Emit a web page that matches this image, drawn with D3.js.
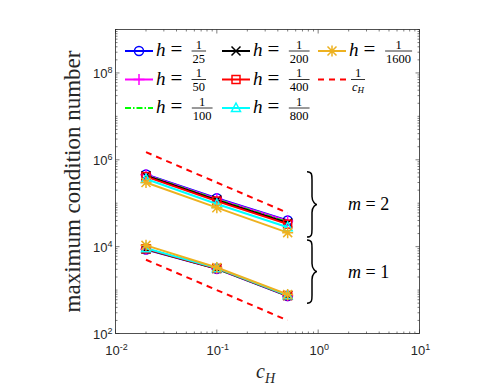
<!doctype html>
<html>
<head>
<meta charset="utf-8">
<script src="https://cdn.jsdelivr.net/npm/d3@7"></script>
<style>
  body { margin: 0; background: #fff; }
  text { font-family: "Liberation Serif", serif; }
</style>
</head>
<body>
<svg id="chart" width="499" height="387"></svg>
<script>
// data
var cH = [0.02, 0.1, 0.5];
var hLabels = ["25", "50", "100", "200", "400", "800", "1600"];
var colors = ["#0000ff", "#ff00ff", "#00ff00", "#000000", "#ff0000", "#00ffff", "#edb120"];
var markers = ["circle", "plus", "none", "cross", "square", "triangle", "star"];
var dashes = [null, null, "6,2,1.5,2", null, null, null, null];

// m = 2
var m2 = [
  [4.6e5, 1.30e5, 4.0e4],
  [4.5e5, 1.26e5, 3.9e4],
  [4.4e5, 1.22e5, 3.7e4],
  [4.3e5, 1.18e5, 3.5e4],
  [4.1e5, 1.12e5, 3.3e4],
  [3.6e5, 9.6e4, 2.8e4],
  [3.0e5, 7.9e4, 2.1e4]
];
// m = 1
var m1 = [
  [8.6e3, 3.1e3, 7.3e2],
  [8.7e3, 3.1e3, 7.4e2],
  [8.8e3, 3.1e3, 7.4e2],
  [8.8e3, 3.15e3, 7.5e2],
  [8.9e3, 3.15e3, 7.5e2],
  [9.2e3, 3.2e3, 7.6e2],
  [1.07e4, 3.3e3, 7.9e2]
];
// reference slopes 1/c_H
var refUpper = 3e4, refLower = 100;
// brace extents (data units)
var braceSpans = [[5.3e5, 1.66e4, "2"], [1.42e4, 5.0e2, "1"]];

var svg = d3.select("#chart");
var L = 115.5, R = 419.5, T = 29.5, B = 333.5;
var x = d3.scaleLog().domain([1e-2, 1e1]).range([L, R]);
var y = d3.scaleLog().domain([1e2, 1e9]).range([B, T]);

// ticks
function minorTicks(lo, hi) {
  var out = [];
  for (var e = lo; e < hi; e++)
    for (var k = 2; k <= 9; k++) out.push(k * Math.pow(10, e));
  return out;
}
var ax = svg.append("g").attr("stroke", "#262626").attr("stroke-width", 0.6);
var xMajor = [1e-2, 1e-1, 1e0, 1e1], xMinor = minorTicks(-2, 1);
var yMajor = [1e2, 1e4, 1e6, 1e8], yMinor = minorTicks(2, 9).concat([1e3, 1e5, 1e7, 1e9]);
xMajor.forEach(function (v) {
  ax.append("line").attr("x1", x(v)).attr("x2", x(v)).attr("y1", B).attr("y2", B - 4);
  ax.append("line").attr("x1", x(v)).attr("x2", x(v)).attr("y1", T).attr("y2", T + 4);
});
xMinor.forEach(function (v) {
  ax.append("line").attr("x1", x(v)).attr("x2", x(v)).attr("y1", B).attr("y2", B - 2);
  ax.append("line").attr("x1", x(v)).attr("x2", x(v)).attr("y1", T).attr("y2", T + 2);
});
yMajor.forEach(function (v) {
  ax.append("line").attr("y1", y(v)).attr("y2", y(v)).attr("x1", L).attr("x2", L + 4);
  ax.append("line").attr("y1", y(v)).attr("y2", y(v)).attr("x1", R).attr("x2", R - 4);
});
yMinor.forEach(function (v) {
  ax.append("line").attr("y1", y(v)).attr("y2", y(v)).attr("x1", L).attr("x2", L + 2);
  ax.append("line").attr("y1", y(v)).attr("y2", y(v)).attr("x1", R).attr("x2", R - 2);
});
ax.append("rect").attr("x", L).attr("y", T).attr("width", R - L).attr("height", B - T)
  .attr("fill", "none").attr("stroke-width", 0.8);

// tick labels 10^k
function pow10Label(g, px, py, k, anchor) {
  var t = g.append("text").attr("x", px).attr("y", py).attr("text-anchor", anchor)
    .style("font-family", "Liberation Sans, Arial, sans-serif").style("font-size", "13px").attr("fill", "#262626");
  t.append("tspan").text("10");
  t.append("tspan").attr("dy", -5).style("font-size", "9px").text(k);
}
var lab = svg.append("g");
[-2, -1, 0, 1].forEach(function (k) { pow10Label(lab, x(Math.pow(10, k)) + 1, B + 21, k, "middle"); });
[2, 4, 6, 8].forEach(function (k) { pow10Label(lab, L - 3, y(Math.pow(10, k)) + 5, k, "end"); });

// axis titles
svg.append("text").attr("transform", "translate(80," + (T + B) / 2 + ") rotate(-90)")
  .attr("text-anchor", "middle").style("font-size", "23px").attr("fill", "#262626")
  .text("maximum condition number");
var xl = svg.append("text").attr("x", 256).attr("y", 378).attr("text-anchor", "start")
  .style("font-size", "20px").attr("fill", "#262626");
xl.append("tspan").style("font-style", "italic").text("c");
xl.append("tspan").attr("dy", 5).style("font-size", "14px").style("font-style", "italic").text("H");

// markers
function drawMarker(g, type, cx, cy, color, s) {
  s = s || 4;
  if (type === "circle") g.append("circle").attr("cx", cx).attr("cy", cy).attr("r", s).attr("fill", "none").attr("stroke", color).attr("stroke-width", 1.5);
  else if (type === "square") g.append("rect").attr("x", cx - s + 0.5).attr("y", cy - s + 0.5).attr("width", 2 * s - 1).attr("height", 2 * s - 1).attr("fill", "none").attr("stroke", color).attr("stroke-width", 1.5);
  else if (type === "triangle") g.append("path").attr("d", "M" + cx + "," + (cy - s - 0.5) + "L" + (cx + s) + "," + (cy + s - 1) + "L" + (cx - s) + "," + (cy + s - 1) + "Z").attr("fill", "none").attr("stroke", color).attr("stroke-width", 1.5);
  else if (type === "plus") g.append("path").attr("d", "M" + (cx - s - 1) + "," + cy + "H" + (cx + s + 1) + "M" + cx + "," + (cy - s - 1) + "V" + (cy + s + 1)).attr("stroke", color).attr("stroke-width", 1.5);
  else if (type === "cross") g.append("path").attr("d", "M" + (cx - s) + "," + (cy - s) + "L" + (cx + s) + "," + (cy + s) + "M" + (cx + s) + "," + (cy - s) + "L" + (cx - s) + "," + (cy + s)).attr("stroke", color).attr("stroke-width", 1.5);
  else if (type === "star") g.append("path").attr("d", "M" + (cx - s - 1) + "," + cy + "H" + (cx + s + 1) + "M" + cx + "," + (cy - s - 1) + "V" + (cy + s + 1) + "M" + (cx - s) + "," + (cy - s) + "L" + (cx + s) + "," + (cy + s) + "M" + (cx + s) + "," + (cy - s) + "L" + (cx - s) + "," + (cy + s)).attr("stroke", color).attr("stroke-width", 1.5);
}

var line = d3.line().x(function (d) { return x(d[0]); }).y(function (d) { return y(d[1]); });
var plot = svg.append("g");
[m2, m1].forEach(function (group) {
  group.forEach(function (vals, i) {
    var pts = cH.map(function (c, j) { return [c, vals[j]]; });
    plot.append("path").attr("d", line(pts)).attr("fill", "none").attr("stroke", colors[i])
      .attr("stroke-width", 2).attr("stroke-dasharray", dashes[i]);
    pts.forEach(function (p) { drawMarker(plot, markers[i], x(p[0]), y(p[1]), colors[i], 4.5); });
  });
});
[refUpper, refLower].forEach(function (C) {
  var pts = cH.map(function (c) { return [c, C / c]; });
  plot.append("path").attr("d", line([pts[0], pts[2]])).attr("fill", "none").attr("stroke", "#ff0000")
    .attr("stroke-width", 2).attr("stroke-dasharray", "6,5");
});

// braces
function brace(y0, y1, bx, w) {
  var ym = (y0 + y1) / 2, q = w / 2;
  return "M" + bx + "," + y0 +
    "C" + (bx + q) + "," + y0 + " " + (bx + q) + "," + (y0 + 3) + " " + (bx + q) + "," + (y0 + 8) +
    "L" + (bx + q) + "," + (ym - 8) +
    "C" + (bx + q) + "," + (ym - 2) + " " + (bx + w - 1) + "," + ym + " " + (bx + w) + "," + ym +
    "C" + (bx + w - 1) + "," + ym + " " + (bx + q) + "," + (ym + 2) + " " + (bx + q) + "," + (ym + 8) +
    "L" + (bx + q) + "," + (y1 - 8) +
    "C" + (bx + q) + "," + (y1 - 3) + " " + (bx + q) + "," + y1 + " " + bx + "," + y1;
}
braceSpans.forEach(function (b) {
  var y0 = y(b[0]), y1 = y(b[1]);
  svg.append("path").attr("d", brace(y0, y1, 307, 10)).attr("fill", "none").attr("stroke", "#000").attr("stroke-width", 1.5);
  var t = svg.append("text").attr("x", 348).attr("y", (y0 + y1) / 2 + 6).style("font-size", "18px");
  t.append("tspan").style("font-style", "italic").text("m");
  t.append("tspan").text(" = " + b[2]);
});

// legend
function frac(g, fx, fy, num, den, fs) {
  var t1 = g.append("text").attr("x", fx).attr("y", fy - 2.5).attr("text-anchor", "middle").style("font-size", fs + "px").text(num);
  var t2 = g.append("text").attr("x", fx).attr("y", fy + fs - 1).attr("text-anchor", "middle").style("font-size", fs + "px");
  if (typeof den === "string") t2.text(den); else den(t2);
  var w = Math.max(t1.node().getComputedTextLength(), t2.node().getComputedTextLength()) + 2;
  g.append("line").attr("x1", fx - w / 2).attr("x2", fx + w / 2).attr("y1", fy).attr("y2", fy).attr("stroke", "#000").attr("stroke-width", 0.8);
}
var leg = svg.append("g");
var colX = [125, 222, 318], rowY = [51, 79.5, 108];
hLabels.forEach(function (d, i) {
  var lx = colX[Math.floor(i / 3)], ly = rowY[i % 3], c = colors[i];
  leg.append("line").attr("x1", lx).attr("x2", lx + 28).attr("y1", ly).attr("y2", ly).attr("stroke", c)
    .attr("stroke-width", 2).attr("stroke-dasharray", dashes[i]);
  drawMarker(leg, markers[i], lx + 14, ly, c, 4.5);
  var t = leg.append("text").attr("x", lx + 31).attr("y", ly + 5).style("font-size", "19px");
  t.append("tspan").style("font-style", "italic").text("h");
  t.append("tspan").attr("dx", 5).style("font-size", "21px").text("=");
  var fx = lx + 67 + d.length * 3.4;
  frac(leg, fx, ly, "1", d, 12.5);
});
// 1/c_H entry
leg.append("line").attr("x1", colX[2]).attr("x2", colX[2] + 28).attr("y1", rowY[1]).attr("y2", rowY[1])
  .attr("stroke", "#ff0000").attr("stroke-width", 2).attr("stroke-dasharray", "6,5");
frac(leg, colX[2] + 40, rowY[1], "1", function (t) {
  t.append("tspan").style("font-style", "italic").text("c");
  t.append("tspan").attr("dy", 2).style("font-size", "9px").style("font-style", "italic").text("H");
}, 12.5);
</script>
</body>
</html>
